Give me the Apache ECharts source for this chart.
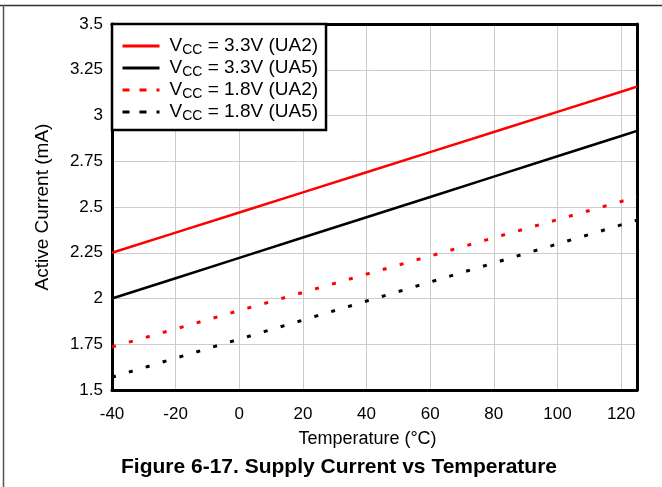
<!DOCTYPE html>
<html>
<head>
<meta charset="utf-8">
<script src="https://cdn.jsdelivr.net/npm/echarts@6/dist/echarts.min.js"></script>
<style>html,body{margin:0;padding:0;background:#fff;}#c{width:662px;height:487px;}</style>
</head>
<body>
<div id="c"></div>
<script>
const temps = [-40, -20, 0, 20, 40, 60, 80, 100, 120, 125];
const vcc33UA2 = [2.25, 2.36, 2.47, 2.58, 2.69, 2.80, 2.91, 3.02, 3.13, 3.158];
const vcc33UA5 = [2.00, 2.111, 2.222, 2.333, 2.444, 2.555, 2.666, 2.777, 2.888, 2.916];
const vcc18UA2 = [1.735, 1.834, 1.934, 2.033, 2.133, 2.232, 2.332, 2.431, 2.53, 2.555];
const vcc18UA5 = [1.57, 1.674, 1.778, 1.882, 1.986, 2.09, 2.194, 2.298, 2.402, 2.428];
const seriesNames = ['3.3V (UA2)', '3.3V (UA5)', '1.8V (UA2)', '1.8V (UA5)'];
const seriesColors = ['#ff0000', '#000000', '#ff0000', '#000000'];
const seriesDashed = [false, false, true, true];
const yTicks = {min: 1.5, max: 3.5, interval: 0.25};
const xTicks = {min: -40, max: 125, interval: 20};
const title = 'Figure 6-17. Supply Current vs Temperature';
const xName = 'Temperature (°C)';
const yName = 'Active Current (mA)';

const allData = [vcc33UA2, vcc33UA5, vcc18UA2, vcc18UA5];
const font = 'Arial, "Liberation Sans", sans-serif';

const chart = echarts.init(document.getElementById('c'), null, {renderer: 'canvas'});
const series = allData.map((vals, i) => ({
  name: seriesNames[i],
  type: 'line',
  data: temps.map((t, j) => [t, vals[j]]),
  symbol: 'none',
  silent: true,
  lineStyle: {
    color: seriesColors[i],
    width: seriesDashed[i] ? 3 : 2.5,
    type: seriesDashed[i] ? [4, 13.6] : 'solid'
  },
  itemStyle: {color: seriesColors[i]},
  z: 3
}));

const frameAxis = {
  type: 'value', axisLine: {show: true, onZero: false, lineStyle: {color: '#000', width: 3}},
  axisTick: {show: false}, axisLabel: {show: false}, splitLine: {show: false}
};

chart.setOption({
  animation: false,
  backgroundColor: '#fff',
  textStyle: {fontFamily: font},
  grid: {left: 112, top: 24, right: 25, bottom: 97},
  title: {
    text: title, left: 334, top: 452, textAlign: 'center',
    textStyle: {fontFamily: font, fontSize: 21, fontWeight: 'bold', color: '#000'}
  },
  legend: {
    orient: 'vertical', left: 112, top: 24,
    padding: [11, 8, 7, 9],
    itemWidth: 37, itemHeight: 14, itemGap: 0,
    borderColor: '#000', borderWidth: 2.5, backgroundColor: '#fff',
    data: seriesNames.map((n, i) => ({
      name: n,
      itemStyle: {color: seriesColors[i], opacity: 0},
      lineStyle: {color: seriesColors[i], width: 3, opacity: 1, type: seriesDashed[i] ? [7, 10] : 'solid'}
    })),
    formatter: n => '{a|V}{s|CC}{a| = ' + n + '}',
    textStyle: {
      fontFamily: font, fontSize: 19, color: '#000', padding: [0, 0, 0, 5],
      rich: {
        a: {fontFamily: font, fontSize: 19, color: '#000', lineHeight: 22},
        s: {fontFamily: font, fontSize: 14, color: '#000', lineHeight: 14, padding: [8, 0, 0, 0]}
      }
    }
  },
  xAxis: [{
    type: 'value', min: xTicks.min, max: xTicks.max, interval: xTicks.interval,
    name: xName, nameLocation: 'middle', nameGap: 40,
    nameTextStyle: {fontFamily: font, fontSize: 18, color: '#000', padding: [0, 14, 0, 0]},
    axisLine: {show: true, onZero: false, lineStyle: {color: '#000', width: 3}},
    axisTick: {show: false},
    axisLabel: {fontFamily: font, fontSize: 17, color: '#000', margin: 16, showMaxLabel: false},
    splitLine: {show: true, lineStyle: {color: '#cccccc', width: 1}}
  }, Object.assign({position: 'top', min: xTicks.min, max: xTicks.max}, frameAxis)],
  yAxis: [{
    type: 'value', min: yTicks.min, max: yTicks.max, interval: yTicks.interval,
    name: yName, nameLocation: 'middle', nameGap: 60, nameRotate: 90,
    nameTextStyle: {fontFamily: font, fontSize: 19, color: '#000'},
    axisLine: {show: true, onZero: false, lineStyle: {color: '#000', width: 3}},
    axisTick: {show: false},
    axisLabel: {fontFamily: font, fontSize: 17, color: '#000', margin: 9},
    splitLine: {show: true, lineStyle: {color: '#cccccc', width: 1}}
  }, Object.assign({position: 'right', min: yTicks.min, max: yTicks.max}, frameAxis)],
  graphic: [
    {type: 'line', shape: {x1: 0, y1: 5.5, x2: 662, y2: 5.5}, style: {stroke: '#333', lineWidth: 1.5}, silent: true},
    {type: 'line', shape: {x1: 3.5, y1: 5, x2: 3.5, y2: 487}, style: {stroke: '#555', lineWidth: 1.5}, silent: true}
  ],
  series: series
});
</script>
</body>
</html>
